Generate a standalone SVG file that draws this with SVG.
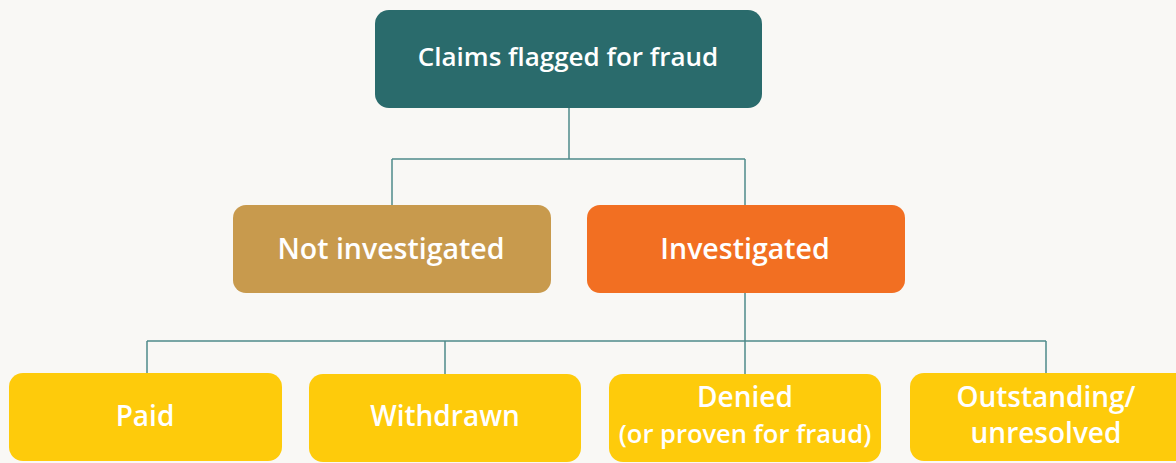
<svg xmlns="http://www.w3.org/2000/svg" width="1176" height="463" viewBox="0 0 1176 463">
<style>
.t{font-family:"Open Sans","Noto Sans",sans-serif;font-weight:600;fill:#ffffff;text-anchor:middle}
.c{fill:none;stroke:#4f8a8a;stroke-width:1.5}
</style>
<rect width="1176" height="463" fill="#f9f8f5"/>
<g id="connectors">
<path class="c" d="M569,107V159M392,159H745M392,159V205M745,159V205"/>
<path class="c" d="M745,293V341M147,341H1046M147,341V373M445,341V374M745,341V374M1046,341V373"/>
</g>
<g id="n-claims"><rect x="375" y="10" width="387" height="98" rx="14" fill="#2a6b6c"/><text class="t" x="568" y="66" font-size="26">Claims flagged for fraud</text></g>
<g id="n-not"><rect x="233" y="205" width="318" height="88" rx="13" fill="#c89a4d"/><text class="t" x="391" y="259" font-size="28.5">Not investigated</text></g>
<g id="n-inv"><rect x="587" y="205" width="318" height="88" rx="13" fill="#f26f22"/><text class="t" x="745" y="259" font-size="28.5">Investigated</text></g>
<g id="n-paid"><rect x="9" y="373" width="273" height="88" rx="14" fill="#fecb0b"/><text class="t" x="145" y="426" font-size="28">Paid</text></g>
<g id="n-withdrawn"><rect x="309" y="374" width="272" height="88" rx="14" fill="#fecb0b"/><text class="t" x="445" y="426" font-size="28">Withdrawn</text></g>
<g id="n-denied"><rect x="609" y="374" width="272" height="88" rx="14" fill="#fecb0b"/><text class="t" x="745" y="407" font-size="28">Denied</text><text class="t" x="745" y="443" font-size="25.5">(or proven for fraud)</text></g>
<g id="n-outstanding"><rect x="910" y="373" width="280" height="88" rx="14" fill="#fecb0b"/><text class="t" x="1046" y="407" font-size="28">Outstanding/</text><text class="t" x="1046" y="443" font-size="28">unresolved</text></g>
</svg>
